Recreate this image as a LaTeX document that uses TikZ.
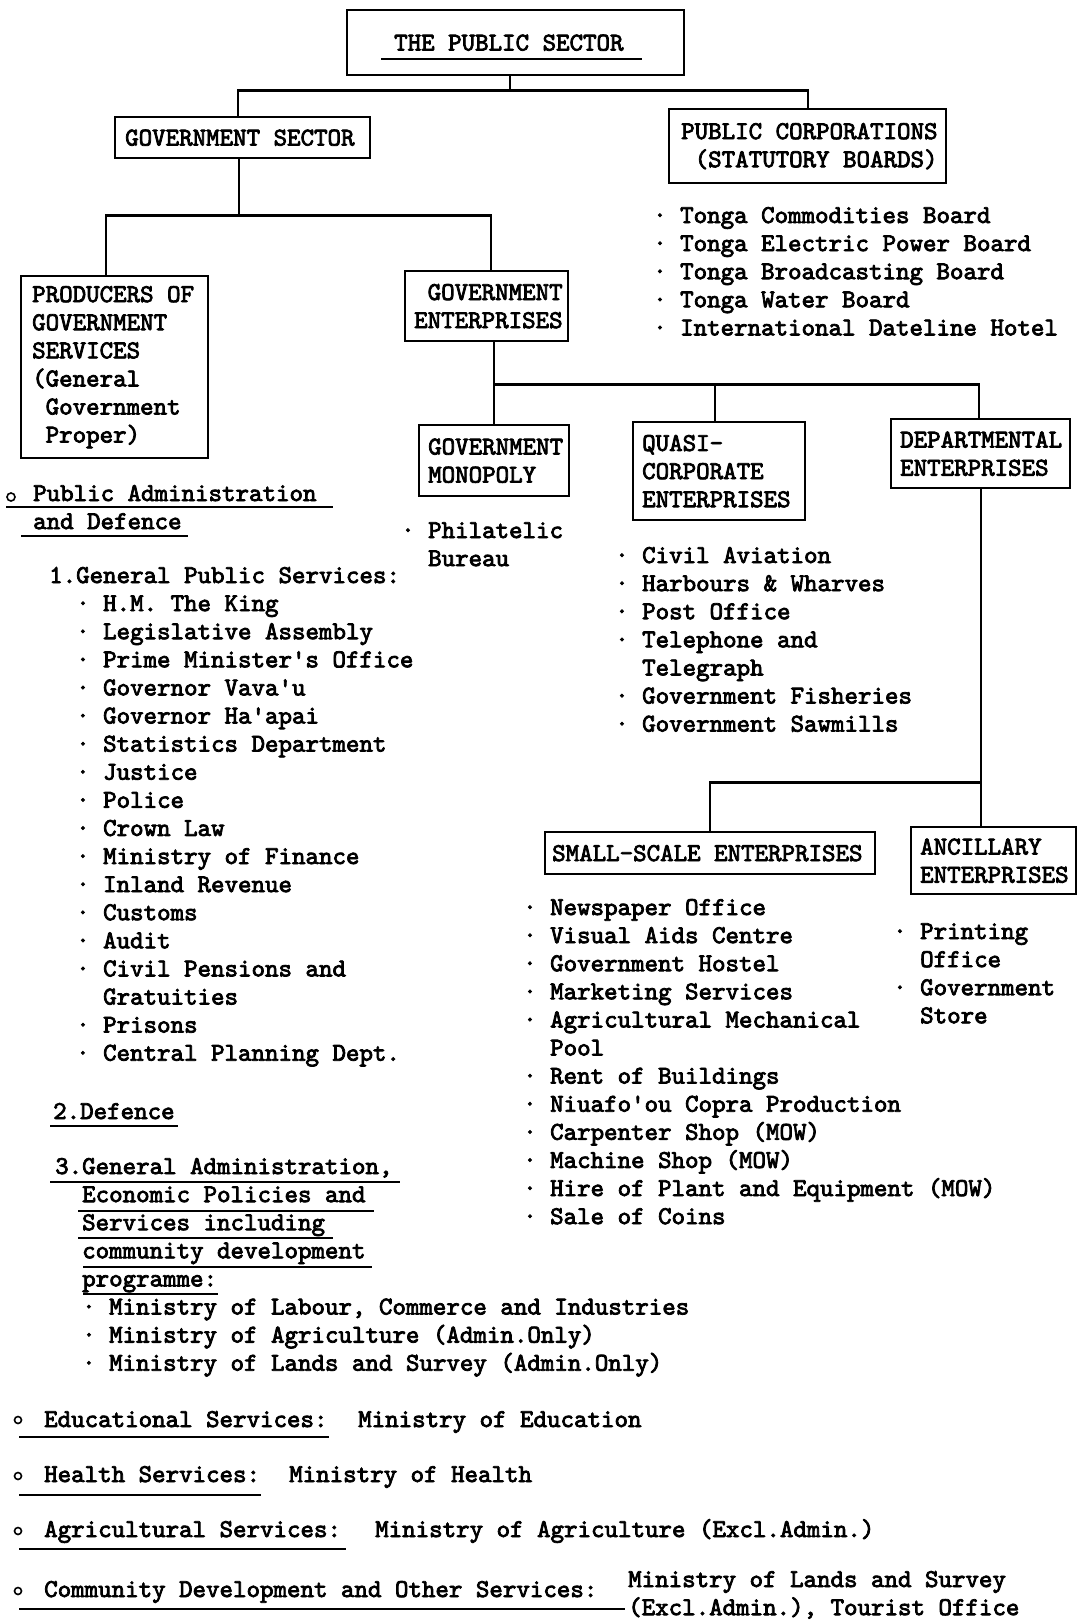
\documentclass[tikz,border=0pt]{standalone}
\usepackage{fontspec}
\newfontfamily\tw{lmmono10-regular.otf}[FakeBold=3]
\newcommand\twf{\tw\fontsize{25.7}{28.1}\selectfont\frenchspacing}
\newcommand\sps{\spaceskip=13.49pt\relax\xspaceskip=13.49pt\relax}
\usetikzlibrary{calc}
\begin{document}
\begin{tikzpicture}[x=1pt,y=-1pt,
  box/.style={draw, line width=2.4pt, inner sep=0pt, align=left, anchor=north west, font=\twf, execute at begin node=\sps},
  conn/.style={line width=2.4pt},
  uline/.style={line width=2pt},
  txt/.style={anchor=base west, inner sep=0pt, align=left, text width=900pt, font=\twf, execute at begin node=\sps},
  dot/.style={line width=1.6pt}]
\useasboundingbox (0,0) rectangle (1077,1622);
\fill[white] (0,0) rectangle (1077,1622);

% ---------- boxes ----------
\node[box, text width=337pt, minimum height=65pt] (ps) at (346,9) {\hspace*{47pt}THE PUBLIC SECTOR};
\node[box, text width=255pt, minimum height=41pt] (gs) at (114,116) {\hspace*{10pt}GOVERNMENT SECTOR};
\node[box, text width=277pt, minimum height=74pt] (pc) at (668,108) {\hspace*{12pt}PUBLIC CORPORATIONS\\\hspace*{12pt}~(STATUTORY BOARDS)};
\node[box, text width=187pt, minimum height=182pt] (prod) at (20,275) {\hspace*{11pt}PRODUCERS OF\\\hspace*{11pt}GOVERNMENT\\\hspace*{11pt}SERVICES\\\hspace*{11pt}(General\\\hspace*{11pt}~Government\\\hspace*{11pt}~Proper)};
\node[box, text width=163pt, minimum height=70pt] (ge) at (404,270) {\hspace*{9pt}~GOVERNMENT\\\hspace*{9pt}ENTERPRISES};
\node[box, text width=150pt, minimum height=71pt] (gm) at (418,424) {\hspace*{9pt}GOVERNMENT\\\hspace*{9pt}MONOPOLY};
\node[box, text width=172pt, minimum height=98pt] (qc) at (632,421) {\hspace*{9pt}QUASI-\\\hspace*{9pt}CORPORATE\\\hspace*{9pt}ENTERPRISES};
\node[box, text width=179pt, minimum height=69pt] (de) at (890,418) {\hspace*{9pt}DEPARTMENTAL\\\hspace*{9pt}ENTERPRISES};
\node[box, text width=330pt, minimum height=42pt] (ss) at (544,831) {\hspace*{7pt}SMALL-SCALE ENTERPRISES};
\node[box, text width=165pt, minimum height=67pt] (an) at (910,826) {\hspace*{9pt}ANCILLARY\\\hspace*{9pt}ENTERPRISES};

\draw[uline] (381,59) -- (642,59);

% ---------- connectors ----------
\draw[conn] ([xshift=-6pt]ps.south) -- ++(0,14) coordinate (j1);
\draw[conn] ([xshift=-5pt]gs.north) |- (j1) -| (pc.north);

\draw[conn] ([xshift=-4pt]gs.south) -- ++(0,56) coordinate (j2);
\draw[conn] ([xshift=-9pt]prod.north) |- (j2) -| ([xshift=4pt]ge.north);

\draw[conn] (gm.north |- ge.south) -- (gm.north);
\path (gm.north |- ge.south) ++(0,42) coordinate (j3);
\draw[conn] (j3) -| ([xshift=-2pt]de.north);
\coordinate (qtop) at ([xshift=-4pt]qc.north);
\draw[conn] (qtop) -- (qtop |- j3);

\draw[conn] (de.south) -- (de.south |- an.north);
\path (de.south) ++(0,293) coordinate (j4);
\draw[conn] (ss.north) |- (j4);

% ---------- lists ----------
\node[txt] (tonga) at (653,223) {·~Tonga Commodities Board\\·~Tonga Electric Power Board\\·~Tonga Broadcasting Board\\·~Tonga Water Board\\·~International Dateline Hotel};

\node[txt] (phil) at (401,538) {·~Philatelic\\~~Bureau};

\node[txt] (quasi) at (615,563) {·~Civil Aviation\\·~Harbours \& Wharves\\·~Post Office\\·~Telephone and\\~~Telegraph\\·~Government Fisheries\\·~Government Sawmills};

\node[txt] (small) at (523,915) {·~Newspaper Office\\·~Visual Aids Centre\\·~Government Hostel\\·~Marketing Services\\·~Agricultural Mechanical\\~~Pool\\·~Rent of Buildings\\·~Niuafo'ou Copra Production\\·~Carpenter Shop (MOW)\\·~Machine Shop (MOW)\\·~Hire of Plant and Equipment (MOW)\\·~Sale of Coins};

\node[txt] (anc) at (893,939) {·~Printing\\~~Office\\·~Government\\~~Store};

% ---------- left column ----------
\draw[dot] (11,497) circle (4);
\node[txt] (pad) at (33,501) {Public Administration\\and Defence};
\draw[uline] (6,507) -- (333,507);
\draw[uline] (21,536) -- (188,536);

\node[txt] (gps) at (49,583) {1.General Public Services:\\~~·~H.M. The King\\~~·~Legislative Assembly\\~~·~Prime Minister's Office\\~~·~Governor Vava'u\\~~·~Governor Ha'apai\\~~·~Statistics Department\\~~·~Justice\\~~·~Police\\~~·~Crown Law\\~~·~Ministry of Finance\\~~·~Inland Revenue\\~~·~Customs\\~~·~Audit\\~~·~Civil Pensions and\\~~~~Gratuities\\~~·~Prisons\\~~·~Central Planning Dept.};

\node[txt] (def) at (53,1119) {2.Defence};
\draw[uline] (50,1126) -- (178,1126);

\node[txt] (gad) at (55,1174) {3.General Administration,\\~~Economic Policies and\\~~Services including\\~~community development\\~~programme:\\~~·~Ministry of Labour, Commerce and Industries\\~~·~Ministry of Agriculture (Admin.Only)\\~~·~Ministry of Lands and Survey (Admin.Only)};
\draw[uline] (50,1182) -- (400,1182);
\draw[uline] (78,1211) -- (374,1211);
\draw[uline] (78,1238) -- (333,1238);
\draw[uline] (83,1267) -- (372,1267);
\draw[uline] (83,1294) -- (218,1294);

% ---------- bottom ----------
\draw[dot] (18,1420) circle (3.5);
\node[txt] (edu) at (44,1427) {Educational Services:};
\node[txt] (edum) at (358,1427) {Ministry of Education};
\draw[uline] (19,1437) -- (329,1437);

\draw[dot] (18,1476) circle (3.5);
\node[txt] (hea) at (44,1482) {Health Services:};
\node[txt] (heam) at (289,1482) {Ministry of Health};
\draw[uline] (19,1495) -- (261,1495);

\draw[dot] (18,1531) circle (3.5);
\node[txt] (agr) at (44,1537) {Agricultural Services:};
\node[txt] (agrm) at (375,1537) {Ministry of Agriculture (Excl.Admin.)};
\draw[uline] (19,1549) -- (346,1549);

\draw[dot] (18,1591) circle (3.5);
\node[txt] (com) at (44,1597) {Community Development and Other Services:};
\node[txt] (comm) at (628,1587) {Ministry of Lands and Survey\\(Excl.Admin.), Tourist Office};
\draw[uline] (19,1609) -- (625,1609);
\end{tikzpicture}
\end{document}
